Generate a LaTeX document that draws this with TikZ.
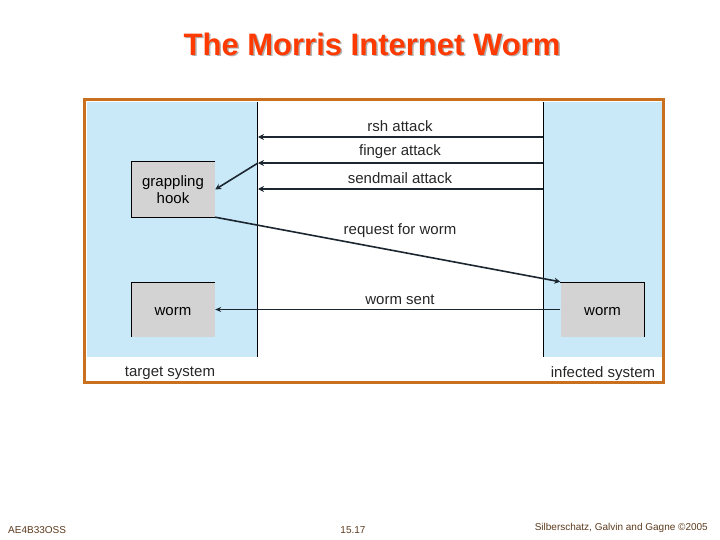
\documentclass[tikz,border=0pt]{standalone}
\usepackage{fontspec}
\setmainfont{Liberation Sans}
\usetikzlibrary{arrows.meta,positioning}

\definecolor{frameorange}{HTML}{C8701E}
\definecolor{sysblue}{HTML}{C9E9F9}
\definecolor{boxgray}{HTML}{D3D3D3}
\definecolor{titlered}{HTML}{FF3A00}
\definecolor{footbrown}{HTML}{5C3A1C}
\definecolor{inkdark}{HTML}{1C2630}

\begin{document}
\begin{tikzpicture}[x=1pt,y=-1pt,font=\fontsize{15}{17}\selectfont,
  box/.style={fill=boxgray,minimum width=84pt,minimum height=55pt,inner sep=0pt,align=center},
  msg/.style={-{Stealth[length=6pt,width=6pt]},line width=1.6pt,draw=inkdark},
  thinmsg/.style={-{Stealth[length=6pt,width=5pt]},line width=0.7pt,draw=inkdark},
  lbl/.style={inner sep=0pt,text=black!85},
  foot/.style={inner sep=0pt,text=footbrown,font=\fontsize{10}{12}\selectfont}]
\useasboundingbox (0,0) rectangle (720,540);

% title with shadow
\node[lbl,text=black!30,font=\bfseries\fontsize{31}{34}\selectfont] at (373.5,45.5) {The Morris Internet Worm};
\node[lbl,text=titlered,font=\bfseries\fontsize{31}{34}\selectfont] (title) at (372,44) {The Morris Internet Worm};

% the two systems
\fill[sysblue] (87,102) rectangle (257,357);
\fill[sysblue] (543,102) rectangle (662,357);
\draw[line width=0.6pt] (257,102) -- (257,357);
\draw[line width=0.6pt] (543,102) -- (543,357);
\draw[frameorange,line width=3pt] (84.5,99.5) rectangle (663.5,382.5);

\node[box] (hook) at (173,189.5) {grappling\\hook};
\node[box] (wormT) at (173,309.5) {\raisebox{-2pt}[8pt][0pt]{worm}};
\node[box] (wormI) at (602.5,309.5) {\raisebox{-2pt}[8pt][0pt]{worm}};
\draw[line width=0.6pt] (hook.north east) -- (hook.north west) -- (hook.south west) -- (hook.south east);
\draw[line width=0.6pt] (wormT.north east) -- (wormT.north west) -- (wormT.south west);
\draw[line width=0.6pt] (wormI.north west) -- (wormI.north east) -- (wormI.south east);

% attacks
\coordinate (rshI) at (543,137);
\coordinate (rshT) at (258,137);
\coordinate (fingI) at (543,163);
\coordinate (fingT) at (258,163);
\coordinate (sendI) at (543,189);
\coordinate (sendT) at (258,189);
\draw[msg] (rshI) -- (rshT);
\draw[msg] (fingI) -- (fingT);
\draw[msg] (sendI) -- (sendT);
\draw[msg] (fingT) -- (hook.east);
\draw[msg] (hook.south east) -- (wormI.north west);
\draw[thinmsg] (wormI.west) -- (wormT.east);

\node[lbl] (rsh) at (400,126) {rsh attack};
\node[lbl] (finger) at (400,152) {finger attack};
\node[lbl] (sendmail) at (400,178) {sendmail attack};
\node[lbl] (request) at (400,231) {request for worm};
\node[lbl] (sent) at (400,300) {worm sent};
\node[lbl] (target) at (170,373) {target system};
\node[lbl] (infected) at (603,374) {infected system};

% footer
\node[foot,anchor=west] (course) at (8,530) {AE4B33OSS};
\node[foot] (page) at (353,530) {15.17};
\node[foot,anchor=east] (credit) at (708,528) {Silberschatz, Galvin and Gagne ©2005};
\end{tikzpicture}
\end{document}
